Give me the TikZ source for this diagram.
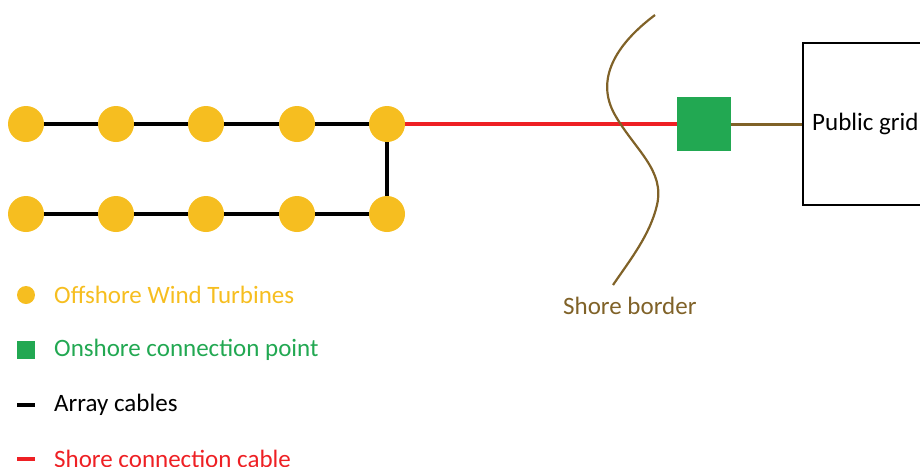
\documentclass[tikz,border=0pt]{standalone}
\usepackage{fontspec}
\setmainfont{Carlito}
\definecolor{turb}{RGB}{246,190,32}
\definecolor{ongreen}{RGB}{34,168,82}
\definecolor{shorered}{RGB}{238,32,36}
\definecolor{shorebrown}{RGB}{128,98,40}
\begin{document}
\begin{tikzpicture}[x=1pt,y=-1pt,
  turbine/.style={circle,fill=turb,inner sep=0pt,minimum size=36pt},
  station/.style={rectangle,fill=ongreen,inner sep=0pt,minimum size=54pt},
  arraycable/.style={line width=3.2pt,black},
  shorecable/.style={line width=3.2pt,shorered},
  gridcable/.style={line width=3pt,shorebrown},
  legtext/.style={anchor=west,font=\fontsize{25}{30}\selectfont,inner sep=0pt}]
\useasboundingbox (0,0) rectangle (920,466);
\clip (0,0) rectangle (920,466);
\coordinate (t1) at (26,124);
\coordinate (t2) at (116,124);
\coordinate (t3) at (206,124);
\coordinate (t4) at (297,124);
\coordinate (t5) at (387,124);
\coordinate (b1) at (26,214);
\coordinate (b2) at (116,214);
\coordinate (b3) at (206,214);
\coordinate (b4) at (297,214);
\coordinate (b5) at (387,214);
\draw[arraycable] (t1) -- (t5) -- (b5) -- (b1);
\node[station] (sub) at (704,124) {};
\node[draw,line width=1.8pt,minimum width=160pt,minimum height=162pt,anchor=north west,inner sep=0pt] (grid) at (802,42) {};
\draw[shorecable] (t5) -- (sub.west);
\draw[gridcable] (sub.east) -- (sub.east -| grid.west);
\foreach \n in {t1,t2,t3,t4,t5,b1,b2,b3,b4,b5} \node[turbine] (n\n) at (\n) {};
\node[legtext] (gridtext) at (812,124) {Public grid};
% shore border
\draw[shorebrown,line width=2.2pt] (655,15) .. controls (615,45) and (595,80) .. (615,115)
  .. controls (635,150) and (665,170) .. (657,205) .. controls (650,235) and (630,260) .. (613,285);
\node[legtext,text=shorebrown] (shoretext) at (563,306) {Shore border};
% legend
\node[circle,fill=turb,inner sep=0pt,minimum size=18pt] (lc) at (26,295) {};
\node[legtext,text=turb] (l1) at (54,295) {Offshore Wind Turbines};
\node[rectangle,fill=ongreen,inner sep=0pt,minimum size=18pt] (ls) at (26,350) {};
\node[legtext,text=ongreen] (l2) at (54,350) {Onshore connection point};
\coordinate (la1) at (17,405); \coordinate (la2) at (35,405);
\draw[arraycable] (la1) -- (la2);
\node[legtext] (l3) at (54,405) {Array cables};
\coordinate (lr1) at (17,459); \coordinate (lr2) at (35,459);
\draw[shorecable] (lr1) -- (lr2);
\node[legtext,text=shorered] (l4) at (54,459) {Shore connection cable};
\end{tikzpicture}
\end{document}
